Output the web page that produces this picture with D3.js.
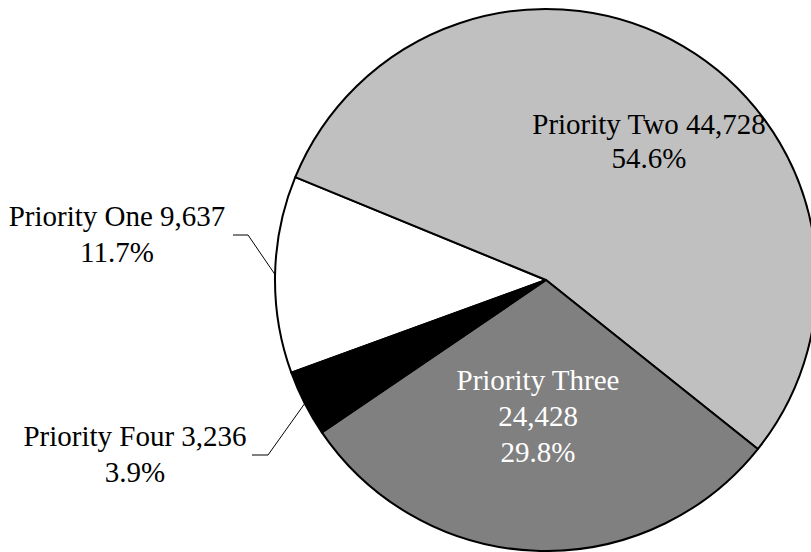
<!DOCTYPE html>
<html>
<head>
<meta charset="utf-8">
<script src="https://cdn.jsdelivr.net/npm/d3@7"></script>
<style>
  html, body { margin: 0; padding: 0; background: #fff; }
  svg { display: block; }
  text { font-family: "Liberation Serif", "Times New Roman", serif; font-size: 29px; }
</style>
</head>
<body>
<svg id="chart" width="811" height="552"></svg>
<script>
const categories = ["Priority One", "Priority Two", "Priority Three", "Priority Four"];
const values = [9637, 44728, 24428, 3236];
const valueLabels = ["9,637", "44,728", "24,428", "3,236"];
const percentLabels = ["11.7%", "54.6%", "29.8%", "3.9%"];
const colors = ["#ffffff", "#c0c0c0", "#808080", "#000000"];

const width = 811, height = 552;
const cx = 546, cy = 280, r = 271;
const startDeg = -110;

const svg = d3.select("#chart");
const g = svg.append("g").attr("transform", `translate(${cx},${cy})`);

const data = categories.map((c, i) => ({ name: c, value: values[i], vl: valueLabels[i], pl: percentLabels[i], color: colors[i] }));

const pie = d3.pie().value(d => d.value).sort(null)
  .startAngle(startDeg * Math.PI / 180)
  .endAngle(startDeg * Math.PI / 180 + 2 * Math.PI);
const arcs = pie(data);
const arc = d3.arc().innerRadius(0).outerRadius(r);

g.selectAll("path.slice").data(arcs).enter().append("path")
  .attr("class", "slice")
  .attr("d", arc)
  .attr("fill", d => d.data.color)
  .attr("stroke", "#000")
  .attr("stroke-width", 2)
  .attr("stroke-linejoin", "round");

// Label layout (absolute page coordinates)
const labelLayout = {
  "Priority One":   { lines: d => [d.name + " " + d.vl, d.pl], x: 117, y: 226, lh: 36, fill: "#000", leader: { elbow: [248, 235], end: [233, 235] } },
  "Priority Two":   { lines: d => [d.name + " " + d.vl, d.pl], x: 649, y: 134, lh: 34, fill: "#000" },
  "Priority Three": { lines: d => [d.name, d.vl, d.pl], x: 538, y: 390, lh: 36, fill: "#fff" },
  "Priority Four":  { lines: d => [d.name + " " + d.vl, d.pl], x: 135, y: 446, lh: 36, fill: "#000", leader: { elbow: [268, 455], end: [252, 455] } }
};

arcs.forEach(a => {
  const L = labelLayout[a.data.name];
  if (L.leader) {
    const mid = (a.startAngle + a.endAngle) / 2;
    const px = cx + r * Math.sin(mid), py = cy - r * Math.cos(mid);
    svg.append("polyline")
      .attr("points", [[px, py], L.leader.elbow, L.leader.end].map(p => p.join(",")).join(" "))
      .attr("fill", "none")
      .attr("stroke", "#000")
      .attr("stroke-width", 1);
  }
  const t = svg.append("text")
    .attr("text-anchor", "middle")
    .attr("fill", L.fill);
  L.lines(a.data).forEach((s, i) => {
    t.append("tspan").attr("x", L.x).attr("y", L.y + i * L.lh).text(s);
  });
});
</script>
</body>
</html>
